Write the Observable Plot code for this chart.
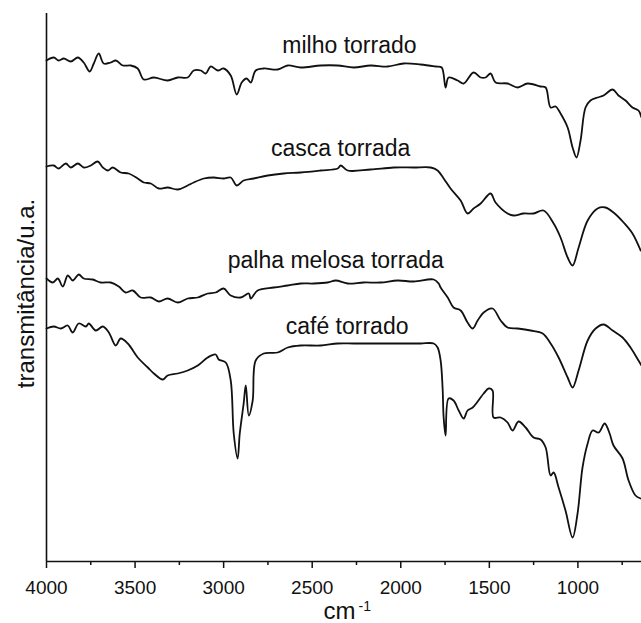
<!DOCTYPE html>
<html><head><meta charset="utf-8">
<script src="https://cdn.jsdelivr.net/npm/d3@7"></script>
<script src="https://cdn.jsdelivr.net/npm/@observablehq/plot@0.6"></script>
<style>body{margin:0;background:#fff} #chart svg{display:block}</style>
</head><body><div id="chart"></div>
<script>
// FTIR spectra: [wavenumber (cm-1), transmittance (a.u., offset)]
const milho = [[4000,501],[3959,504],[3931,501],[3902,503],[3863,500],[3823,504],[3790,499],[3756,490],[3733,498],[3705,508],[3677,498],[3637,499],[3609,501],[3569,496],[3524,496],[3485,493],[3451,482],[3394,484],[3316,481],[3259,484],[3203,484],[3169,491],[3129,491],[3101,488],[3073,495],[3033,491],[3000,493],[2960,486],[2926,467],[2898,479],[2870,483],[2847,479],[2819,491],[2774,493],[2695,492],[2638,496],[2565,494],[2452,496],[2356,496],[2266,494],[2170,496],[2074,495],[1984,498],[1888,497],[1803,495],[1769,494],[1747,474],[1730,484],[1679,481],[1645,478],[1589,489],[1549,484],[1521,484],[1493,488],[1465,479],[1397,478],[1340,474],[1284,478],[1211,475],[1182,474],[1154,454],[1126,455],[1098,448],[1058,434],[1030,414],[1008,404],[985,421],[957,454],[929,461],[889,464],[855,466],[804,472],[771,466],[731,461],[692,454],[658,451],[641,444]];
const casca = [[4000,395],[3959,396],[3931,393],[3891,398],[3863,394],[3823,398],[3790,394],[3750,396],[3711,400],[3682,394],[3654,391],[3626,394],[3581,389],[3536,388],[3485,383],[3451,379],[3411,378],[3366,373],[3316,374],[3259,372],[3203,376],[3169,379],[3112,383],[3056,384],[3000,383],[2960,384],[2926,376],[2887,381],[2830,383],[2751,386],[2661,388],[2565,389],[2452,391],[2356,393],[2339,396],[2300,391],[2170,392],[2040,394],[1927,394],[1831,394],[1792,391],[1758,383],[1719,373],[1662,361],[1623,348],[1589,353],[1549,358],[1493,368],[1465,359],[1397,348],[1363,346],[1307,348],[1250,348],[1194,351],[1137,338],[1098,324],[1058,304],[1030,296],[996,314],[945,341],[889,353],[844,354],[799,349],[742,339],[692,328],[646,311]];
const palha = [[4000,283],[3964,279],[3936,283],[3908,275],[3880,286],[3852,281],[3818,287],[3790,283],[3739,282],[3694,279],[3637,279],[3592,275],[3553,269],[3513,271],[3468,264],[3411,264],[3366,260],[3316,263],[3259,259],[3203,263],[3146,264],[3090,268],[3045,269],[3000,273],[2960,266],[2904,264],[2858,268],[2847,263],[2808,271],[2717,274],[2638,276],[2565,278],[2492,278],[2413,279],[2367,281],[2300,278],[2210,279],[2114,279],[2018,281],[1927,280],[1814,282],[1786,278],[1775,274],[1735,264],[1702,254],[1662,251],[1623,239],[1594,233],[1566,241],[1532,249],[1482,253],[1436,241],[1397,234],[1340,233],[1267,231],[1199,228],[1154,218],[1109,204],[1058,184],[1030,174],[996,191],[945,221],[900,233],[855,237],[804,231],[748,224],[703,214],[658,201],[641,196]];
const cafe = [[4000,233],[3959,235],[3919,233],[3880,236],[3852,229],[3818,238],[3778,235],[3761,238],[3722,231],[3682,235],[3648,229],[3609,216],[3581,223],[3541,218],[3485,204],[3428,194],[3394,188],[3344,182],[3316,186],[3259,188],[3203,191],[3146,196],[3090,204],[3045,207],[3028,202],[2988,199],[2960,181],[2943,128],[2921,103],[2909,128],[2887,158],[2875,176],[2858,146],[2836,161],[2819,201],[2774,208],[2695,209],[2638,214],[2565,216],[2452,216],[2356,218],[2266,218],[2170,218],[2074,218],[1984,218],[1888,218],[1814,218],[1792,214],[1775,201],[1764,174],[1758,144],[1747,126],[1730,163],[1702,161],[1673,151],[1645,143],[1623,151],[1594,154],[1532,168],[1504,173],[1482,171],[1476,144],[1436,144],[1397,139],[1369,131],[1335,140],[1295,134],[1250,124],[1211,122],[1182,114],[1154,86],[1137,89],[1109,74],[1070,51],[1030,24],[1002,48],[974,94],[945,118],[917,131],[883,129],[849,138],[821,128],[799,116],[748,103],[714,81],[675,66],[646,63]];

const seriesNames = ["milho torrado", "casca torrada", "palha melosa torrada", "café torrado"];
const labelWn = [2290, 2339, 2367, 2303];
const labelT = [509, 406, 294, 228];
const majorTicks = [4000, 3500, 3000, 2500, 2000, 1500, 1000];
const minorTicks = [3750, 3250, 2750, 2250, 1750, 1250, 750];
const xLabel = "cm";
const xLabelSup = "-1";
const yLabel = "transmitância/u.a.";

const data = [milho, casca, palha, cafe].flatMap((s, i) => s.map(([wn, t]) => ({series: seriesNames[i], wn, t})));
const labels = seriesNames.map((name, i) => ({name, wn: labelWn[i], t: labelT[i]}));

const font = "'Liberation Sans', Arial, Helvetica, sans-serif";
const hasAxis = typeof Plot.axisX === "function";

const axisMarks = hasAxis ? [
  Plot.axisX(majorTicks, {tickSize: 7, tickPadding: 12, tickFormat: d3.format("d"), fontSize: 19, label: null, strokeWidth: 1.5, fill: "#111"}),
  Plot.axisX(minorTicks, {tickSize: 4, tickFormat: () => "", label: null, strokeWidth: 1.5})
] : [
  Plot.ruleX(minorTicks, {y1: 0, y2: -4, strokeWidth: 1.5})
];

const chart = Plot.plot({
  width: 641,
  height: 623,
  marginLeft: 46,
  marginRight: 0,
  marginTop: 13,
  marginBottom: 62,
  style: {fontFamily: font, fontSize: "19px", background: "#fff", color: "#111"},
  x: Object.assign({domain: [4000, 641], label: null}, hasAxis ? {} : {ticks: majorTicks, tickSize: 7, tickPadding: 12, tickFormat: "d"}),
  y: {domain: [0, 548], axis: null},
  marks: [
    ...axisMarks,
    Plot.ruleX([4000], {stroke: "#111", strokeWidth: 1.6}),
    Plot.ruleY([0], {stroke: "#111", strokeWidth: 1.6}),
    Plot.line(data, {x: "wn", y: "t", z: "series", stroke: "#111", strokeWidth: 1.8, curve: "catmull-rom", strokeLinejoin: "round"}),
    Plot.text(labels, {x: "wn", y: "t", text: "name", fontSize: 23, lineAnchor: "bottom", textAnchor: "middle", fill: "#111"}),
    Plot.text([yLabel], {text: d => d, frameAnchor: "left", rotate: -90, dx: -13, dy: 6, fontSize: 24, lineAnchor: "bottom", textAnchor: "middle", fill: "#111"}),
    Plot.text([xLabel], {text: d => d, frameAnchor: "bottom", textAnchor: "start", lineAnchor: "bottom", dx: -20.5, dy: 57, fontSize: 24, fill: "#111"}),
    Plot.text([xLabelSup], {text: d => d, frameAnchor: "bottom", textAnchor: "start", lineAnchor: "bottom", dx: 14.5, dy: 49, fontSize: 14, fill: "#111"})
  ]
});
document.getElementById("chart").appendChild(chart);
</script>
</body></html>
